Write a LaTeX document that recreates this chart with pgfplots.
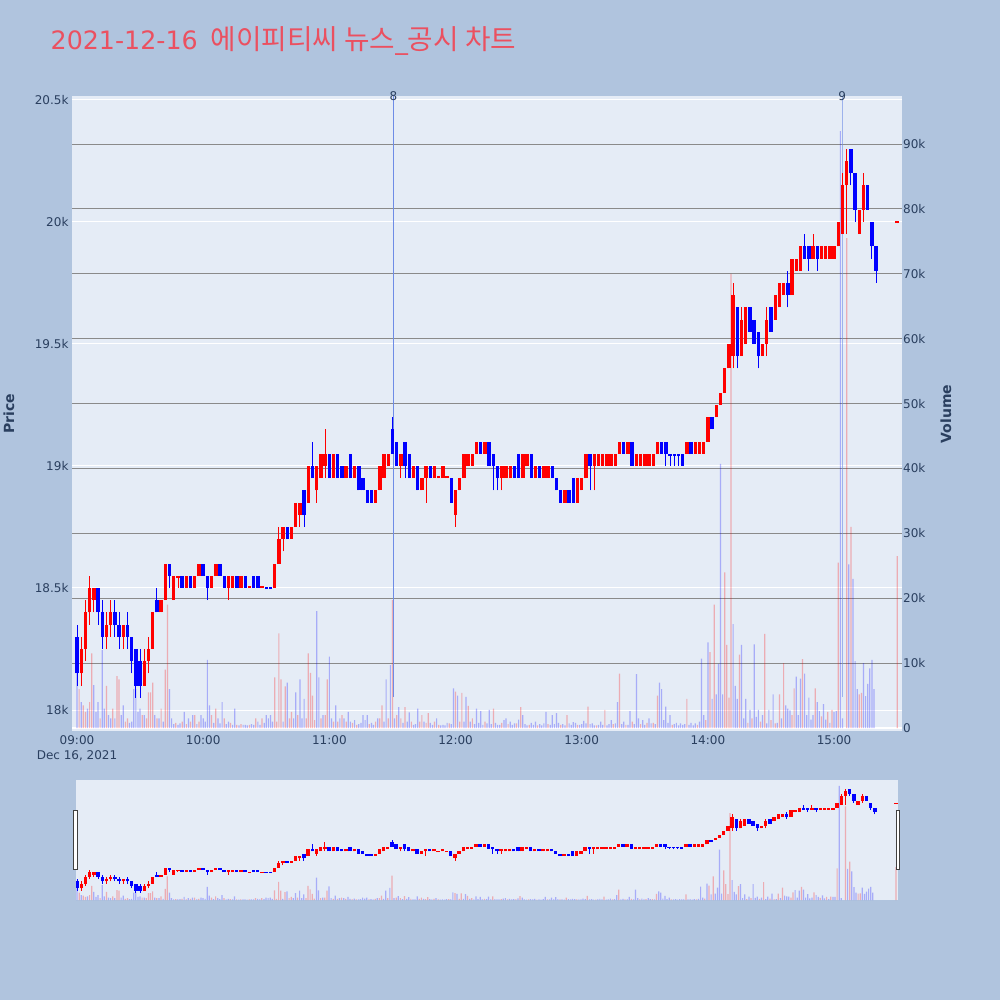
\documentclass[border=0pt]{standalone}
\usepackage{fontspec}
\setmainfont{DejaVu Sans}
\newfontfamily\kr[Scale=1.095]{Noto Sans CJK KR}
\usepackage{pgfplots}
\pgfplotsset{compat=1.18}
\usepackage{pgfplotstable}
\definecolor{pagebg}{HTML}{B0C4DE}
\definecolor{plotbg}{HTML}{E5ECF6}
\definecolor{tickc}{HTML}{2A3F5F}
\definecolor{titlec}{HTML}{EB5060}
\definecolor{vgrid}{HTML}{8A8A8A}
\definecolor{annot}{HTML}{6E8CE6}
\definecolor{upc}{HTML}{FF0000}
\definecolor{dnc}{HTML}{0000FF}

% rising candles (red): t body-low body-high low high
\pgfplotstableread{
t bl bh l h
2 18150 18250 18100 18300
4 18250 18400 18200 18450
6 18400 18500 18350 18550
8 18450 18500 18400 18500
14 18300 18350 18250 18400
16 18350 18400 18300 18450
22 18300 18350 18250 18350
32 18100 18200 18100 18250
34 18200 18250 18150 18300
36 18250 18400 18250 18400
40 18400 18450 18400 18450
42 18450 18600 18450 18600
46 18450 18550 18450 18550
48 18540 18550 18500 18550
52 18500 18550 18500 18550
56 18500 18550 18500 18550
58 18550 18600 18550 18600
64 18500 18550 18500 18550
66 18550 18600 18550 18600
72 18500 18550 18450 18550
74 18500 18550 18500 18550
78 18500 18550 18500 18550
82 18500 18510 18500 18510
88 18500 18510 18500 18510
94 18500 18600 18500 18600
96 18600 18700 18600 18750
98 18700 18750 18650 18750
102 18700 18750 18700 18750
104 18750 18850 18750 18850
106 18800 18850 18750 18850
110 18850 19000 18850 19000
114 18900 19000 18850 19000
116 18950 19050 18950 19050
118 19000 19050 18950 19150
122 18950 19050 18950 19050
128 18950 19000 18950 19000
132 18950 19000 18950 19000
142 18850 18900 18850 18900
144 18900 19000 18900 19000
146 18950 19050 18950 19050
148 19000 19050 19000 19050
154 19000 19050 18950 19050
160 18950 19000 18950 19000
164 18900 18950 18900 18950
166 18950 19000 18850 19000
170 18950 19000 18950 19000
172 18950 18960 18950 18960
174 18950 19000 18950 19000
176 18950 18960 18950 18960
180 18800 18900 18750 18900
182 18900 18950 18900 18950
184 18950 19050 18950 19050
186 19000 19050 19000 19050
188 19000 19050 19000 19050
190 19050 19100 19050 19100
194 19050 19100 19050 19100
202 18950 19000 18900 19000
204 18950 19000 18950 19000
206 18950 19000 18950 19000
212 18950 19050 18950 19050
214 19000 19050 19000 19050
218 18950 19000 18950 19000
222 18950 19000 18950 19000
224 18950 19000 18950 19000
232 18850 18900 18850 18900
238 18850 18950 18850 18950
240 18900 18950 18900 18950
242 18950 19050 18950 19050
246 19000 19050 18900 19050
248 19000 19050 19000 19050
250 19000 19050 19000 19050
252 19000 19050 19000 19050
254 19000 19050 19000 19050
256 19000 19050 19000 19050
258 19050 19100 19050 19100
262 19050 19100 19050 19100
266 19000 19050 19000 19050
268 19000 19050 19000 19050
270 19000 19050 19000 19050
272 19000 19050 19000 19050
274 19000 19050 19000 19050
276 19050 19100 19050 19100
290 19050 19100 19050 19100
294 19050 19100 19050 19100
296 19050 19100 19050 19100
298 19050 19100 19050 19100
300 19100 19200 19100 19200
304 19200 19250 19200 19250
306 19250 19300 19250 19300
308 19300 19400 19300 19400
310 19400 19500 19400 19500
312 19450 19700 19400 19750
316 19450 19600 19450 19650
318 19500 19650 19500 19650
326 19450 19500 19450 19500
328 19500 19600 19450 19650
332 19600 19700 19600 19700
334 19650 19750 19650 19750
336 19700 19750 19700 19750
340 19700 19850 19700 19850
342 19800 19850 19800 19850
344 19800 19900 19800 19900
350 19850 19900 19850 19950
354 19850 19900 19850 19900
356 19850 19900 19850 19900
358 19850 19900 19850 19900
360 19850 19900 19850 19900
362 19900 20000 19900 20000
364 19950 20150 19950 20200
366 20150 20250 19950 20300
372 19950 20050 19950 20050
374 20050 20150 20000 20200
390 19995 20005 19995 20005
}\upT

% falling candles (blue)
\pgfplotstableread{
t bl bh l h
0 18150 18300 18100 18350
10 18400 18500 18350 18500
12 18300 18400 18250 18450
18 18350 18400 18300 18450
20 18300 18350 18250 18400
24 18300 18350 18250 18400
26 18200 18300 18150 18300
28 18100 18250 18050 18250
30 18100 18200 18050 18250
38 18400 18450 18400 18500
44 18550 18600 18500 18600
50 18500 18550 18500 18550
54 18500 18550 18500 18550
60 18550 18600 18550 18600
62 18500 18550 18450 18550
68 18550 18600 18550 18600
70 18500 18550 18500 18550
76 18500 18550 18500 18550
80 18500 18550 18500 18550
84 18500 18550 18500 18550
86 18500 18550 18500 18550
90 18495 18505 18495 18505
92 18495 18505 18495 18505
100 18700 18750 18700 18750
108 18800 18900 18750 18900
112 18950 19000 18950 19100
120 18950 19050 18950 19050
124 18950 19050 18950 19050
126 18950 19000 18950 19000
130 18950 19050 18950 19050
134 18900 19000 18900 19000
136 18900 18950 18900 18950
138 18850 18900 18850 18900
140 18850 18900 18850 18900
150 19050 19150 19050 19200
152 19000 19100 19000 19100
156 19000 19100 18950 19100
158 18950 19050 18950 19050
162 18900 19000 18900 19000
168 18950 19000 18950 19000
178 18850 18950 18850 18950
192 19050 19100 19050 19100
196 19000 19100 19000 19100
198 19000 19050 18900 19050
200 18950 19000 18900 19000
208 18950 19000 18950 19000
210 18950 19050 18950 19050
216 18950 19050 18950 19050
220 18950 19000 18950 19000
226 18950 19000 18950 19000
228 18900 18950 18900 18950
230 18850 18900 18850 18900
234 18850 18900 18850 18900
236 18850 18950 18850 18950
244 19000 19050 18900 19050
260 19050 19100 19050 19100
264 19000 19100 19000 19100
278 19050 19100 19050 19100
280 19050 19100 19000 19100
282 19040 19050 19000 19050
284 19040 19050 19000 19050
286 19040 19050 19000 19050
288 19000 19050 19000 19050
292 19050 19100 19050 19100
302 19150 19200 19150 19200
314 19450 19650 19400 19650
320 19550 19650 19550 19650
322 19500 19600 19500 19600
324 19450 19550 19400 19550
330 19550 19650 19550 19650
338 19700 19750 19650 19800
346 19850 19900 19850 19950
348 19850 19900 19800 19900
352 19850 19900 19800 19900
368 20200 20300 20150 20300
370 20050 20200 20000 20200
376 20050 20150 20050 20150
378 19900 20000 19850 20000
380 19800 19900 19750 19900
}\dnT

% volume, rising minutes
\pgfplotstableread{
t v
1 6000
3 3500
4 2500
6 4000
7 11500
11 1500
14 6500
17 3000
19 8000
20 7500
23 1000
24 1500
31 2000
33 1500
34 5500
35 5500
36 7000
38 1500
40 3000
42 9000
43 19000
47 800
50 1000
52 600
54 1000
56 2000
58 1000
64 2000
66 3000
70 1500
73 800
76 500
78 600
82 500
85 1500
88 1500
94 7800
95 1000
96 14600
97 7500
99 6400
101 1500
102 2500
105 2000
109 1500
110 11500
111 8500
112 5000
113 1200
116 1500
118 2000
119 7500
122 1000
124 1000
126 2000
128 1000
131 800
133 500
139 600
142 1000
144 1500
145 3500
148 1500
150 19700
152 2000
154 1500
156 3200
159 1000
163 1000
164 2000
166 800
167 2300
170 1000
172 500
177 700
180 5600
182 1000
183 5400
186 3400
188 1500
194 1000
198 3000
202 800
205 600
209 700
211 3200
215 500
219 400
224 600
230 500
233 2000
238 500
243 3300
247 400
251 2800
255 600
258 8400
261 500
264 1000
268 600
271 800
274 800
276 5000
283 500
290 4500
295 500
299 1200
301 11700
303 19000
308 24000
309 12800
310 4700
311 70000
315 11300
319 800
321 1500
325 1000
327 14500
330 1200
332 700
334 5200
336 10000
340 2000
341 6100
345 10600
351 6100
354 1800
357 2500
359 2800
362 25500
366 75500
368 31000
372 5200
373 5400
390 26500
}\vUp

% volume, falling minutes
\pgfplotstableread{
t v
0 10000
2 4000
5 3000
8 6600
9 2500
10 4000
12 12000
13 3000
15 2000
16 1500
18 1500
21 2000
22 3500
25 800
26 1000
27 6000
28 6000
29 2500
30 3000
32 2000
37 2000
39 1500
41 1000
44 6000
45 1500
46 600
48 500
49 700
51 2500
53 1500
55 2000
57 600
59 2000
60 1500
61 1000
62 10500
63 3500
65 800
67 1500
68 700
69 4000
71 600
72 1000
74 500
75 3000
77 400
79 500
80 500
81 400
83 600
84 500
86 1000
87 500
89 800
90 2000
91 1500
92 2000
93 1000
98 1000
100 7000
103 1500
104 5500
106 7500
107 1500
108 4500
114 18000
115 7800
117 2000
120 11000
121 1500
123 3500
125 1500
127 1500
129 2500
130 1000
132 1200
134 600
135 800
136 2000
137 1200
138 2000
140 800
141 500
143 1500
146 1000
147 7500
149 9700
151 1500
153 3200
155 800
157 1000
158 2400
160 500
161 600
162 3000
165 1000
168 800
169 500
171 1500
173 400
174 500
175 400
176 800
178 600
179 6100
181 5000
184 1000
185 4800
187 1000
189 600
190 3000
191 800
192 2600
193 500
195 700
196 2800
197 600
199 800
200 500
201 500
203 1200
204 1500
206 1000
207 500
208 700
210 1300
212 2000
213 600
214 400
216 800
217 500
218 1000
220 600
221 400
222 700
223 2500
225 500
226 2000
227 600
228 2300
229 800
231 600
232 400
234 700
235 500
236 900
237 800
239 500
240 600
241 1100
242 700
244 600
245 700
246 400
248 500
249 1000
250 500
252 400
253 600
254 1200
256 700
257 4000
259 600
260 1000
262 500
263 2600
265 600
266 8300
267 1500
269 1200
270 500
272 1500
273 700
275 600
277 7000
278 6000
279 1200
280 3300
281 800
282 2000
284 600
285 800
286 400
287 700
288 500
289 600
291 500
292 800
293 400
294 700
296 1000
297 10700
298 2000
300 13200
302 4500
304 5200
305 9900
306 40700
307 5200
312 16000
313 6500
314 4500
316 12800
317 1500
318 4500
320 2800
322 12900
323 1700
324 2800
326 2000
328 700
329 2800
331 5200
333 800
335 1500
337 3500
338 3000
339 2700
342 7900
343 2000
344 7600
346 8400
347 2000
348 4700
349 1300
350 2000
352 4000
353 2600
355 3700
356 1300
358 800
360 2500
361 2600
363 92000
364 1500
367 25200
369 23000
370 10300
371 6000
374 10000
375 4900
376 6800
377 9200
378 10500
379 6000
}\vDn

\pgfplotsset{
  wick/.style={only marks, mark=*, mark size=0pt, mark options={draw=none, fill=none, opacity=0}, forget plot, error bars/.cd, y dir=plus, y explicit, error mark=none, error bar style={#1, line width=0.9pt, opacity=1}},
  body/.style={only marks, mark=*, mark size=0pt, mark options={draw=none, fill=none, opacity=0}, forget plot, error bars/.cd, y dir=plus, y explicit, error mark=none, error bar style={#1, line width=3.4pt, opacity=1}},
  volbar/.style={ybar, bar width=1.2pt, bar shift=0pt, fill=#1, fill opacity=0.27, draw=none, forget plot},
}

\begin{document}
\begin{tikzpicture}[x=1pt,y=1pt]
\fill[pagebg] (0,0) rectangle (1000,-1000);
\path[use as bounding box] (0,0) rectangle (1000,-1000);

% title
\node[anchor=base west, inner sep=0pt, text=titlec, font=\fontsize{25.3}{28}\selectfont] at (50.5,-50) {2021-12-16\hspace{13pt}{\kr 에이피티씨 뉴스}\_{\kr 공시 차트}};

% price background axis
\begin{axis}[
  at={(72pt,-731pt)}, anchor=south west, width=830pt, height=635pt, scale only axis,
  xmin=-2.38, xmax=392.3, ymin=17914, ymax=20516,
  scaled ticks=false,
  axis background/.style={fill=plotbg},
  axis line style={draw=none}, major tick length=0pt,
  xtick={0,60,120,180,240,300,360},
  xticklabels={{09:00\\Dec 16, 2021},10:00,11:00,12:00,13:00,14:00,15:00},
  xticklabel style={align=center, font=\fontsize{12}{15.5}\selectfont, text=tickc, yshift=-1pt},
  ytick={18000,18500,19000,19500,20000,20500},
  yticklabels={18k,18.5k,19k,19.5k,20k,20.5k},
  yticklabel style={font=\fontsize{12}{14}\selectfont, text=tickc},
  ymajorgrids, major grid style={white, line width=1pt},
]
\addplot[draw=none, no markers, forget plot] coordinates {(0,18000) (300,19000)};
\end{axis}

% volume axis
\begin{axis}[
  at={(72pt,-731pt)}, anchor=south west, width=830pt, height=635pt, scale only axis,
  xmin=-2.38, xmax=392.3, ymin=-462, ymax=97400,
  scaled ticks=false,
  axis line style={draw=none}, major tick length=0pt,
  xtick=\empty,
  ytick={10000,20000,30000,40000,50000,60000,70000,80000,90000},
  yticklabels={10k,20k,30k,40k,50k,60k,70k,80k,90k},
  yticklabel pos=right,
  yticklabel style={font=\fontsize{12}{14}\selectfont, text=tickc, inner xsep=1pt},
  ymajorgrids, major grid style={vgrid, line width=1pt},
  extra y ticks={0}, extra y tick labels={0},
  extra y tick style={major grid style={white, line width=1.6pt}},
]
\addplot[volbar=upc] table[x=t, y=v] {\vUp};
\addplot[volbar=dnc] table[x=t, y=v] {\vDn};
\end{axis}

% price data axis
\begin{axis}[
  at={(72pt,-731pt)}, anchor=south west, width=830pt, height=635pt, scale only axis,
  xmin=-2.38, xmax=392.3, ymin=17914, ymax=20516,
  hide axis, clip=false, scaled ticks=false,
]
\addplot[annot, line width=1pt, forget plot] coordinates {(150.5,18053) (150.5,20516)};
\addplot[annot, line width=1pt, opacity=0.6, forget plot] coordinates {(363.8,18053) (363.8,20516)};
\addplot[wick=upc] table[x=t, y=l, y error plus expr=\thisrow{h}-\thisrow{l}] {\upT};
\addplot[body=upc] table[x=t, y=bl, y error plus expr=\thisrow{bh}-\thisrow{bl}] {\upT};
\addplot[wick=dnc] table[x=t, y=l, y error plus expr=\thisrow{h}-\thisrow{l}] {\dnT};
\addplot[body=dnc] table[x=t, y=bl, y error plus expr=\thisrow{bh}-\thisrow{bl}] {\dnT};
\node[text=tickc, font=\fontsize{12}{14}\selectfont, inner sep=0pt] at (axis cs:150.5,20516) {8};
\node[text=tickc, font=\fontsize{12}{14}\selectfont, inner sep=0pt] at (axis cs:363.8,20516) {9};
\end{axis}

% range slider: volume
\begin{axis}[
  at={(76pt,-900pt)}, anchor=south west, width=822pt, height=120pt, scale only axis,
  xmin=-0.5, xmax=391, ymin=0, ymax=96800,
  scaled ticks=false,
  axis background/.style={fill=plotbg},
  axis line style={draw=none}, xtick=\empty, ytick=\empty,
]
\addplot[volbar=upc] table[x=t, y=v] {\vUp};
\addplot[volbar=dnc] table[x=t, y=v] {\vDn};
\end{axis}

% range slider: price
\begin{axis}[
  at={(76pt,-900pt)}, anchor=south west, width=822pt, height=120pt, scale only axis,
  xmin=-0.5, xmax=391, ymin=17898, ymax=20495,
  hide axis, scaled ticks=false,
]
\addplot[wick=upc] table[x=t, y=l, y error plus expr=\thisrow{h}-\thisrow{l}] {\upT};
\addplot[body=upc] table[x=t, y=bl, y error plus expr=\thisrow{bh}-\thisrow{bl}] {\upT};
\addplot[wick=dnc] table[x=t, y=l, y error plus expr=\thisrow{h}-\thisrow{l}] {\dnT};
\addplot[body=dnc] table[x=t, y=bl, y error plus expr=\thisrow{bh}-\thisrow{bl}] {\dnT};
\end{axis}

% slider handles
\draw[fill=white, draw=black!75, line width=1pt] (73.8,-810.5) rectangle (77.3,-869.5);
\draw[fill=white, draw=black!75, line width=1pt] (896.2,-810.5) rectangle (899.7,-869.5);

% axis titles
\node[rotate=90, text=tickc, font=\bfseries\fontsize{14}{16}\selectfont] at (9,-414) {Price};
\node[rotate=90, text=tickc, font=\bfseries\fontsize{14}{16}\selectfont] at (946,-414) {Volume};
\end{tikzpicture}
\end{document}
